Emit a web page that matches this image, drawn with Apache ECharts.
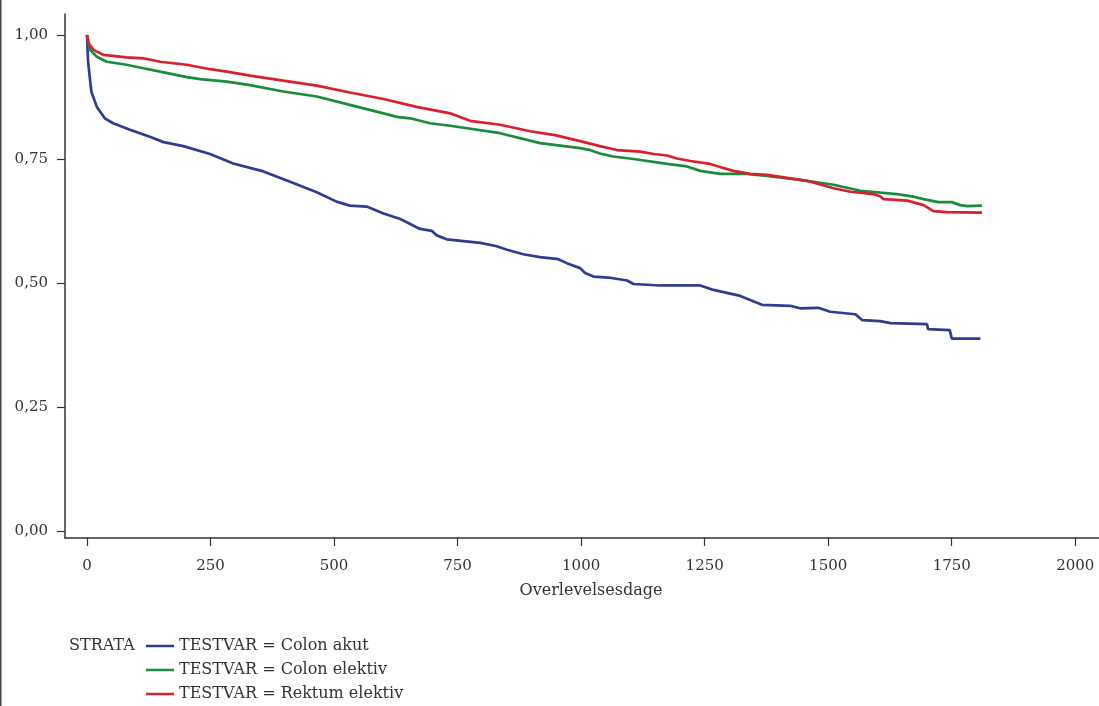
<!DOCTYPE html>
<html>
<head>
<meta charset="utf-8">
<script src="https://cdn.jsdelivr.net/npm/echarts@6/dist/echarts.min.js"></script>
<style>
  html, body { margin: 0; padding: 0; background: #fff; }
  #chart { width: 1099px; height: 706px; }
</style>
</head>
<body>
<div id="chart"></div>
<script>
// Kaplan-Meier survival estimates, [day, survival]
const colonAkut = [
  [0, 1.000], [2, 0.950], [5, 0.920], [9, 0.885], [20, 0.855], [36, 0.832], [53, 0.822],
  [87, 0.809], [127, 0.795], [155, 0.784], [195, 0.776], [249, 0.760], [296, 0.741],
  [357, 0.725], [411, 0.704], [465, 0.683], [505, 0.664], [532, 0.656], [566, 0.654],
  [600, 0.640], [634, 0.629], [674, 0.609], [698, 0.605], [708, 0.596], [728, 0.588],
  [796, 0.581], [829, 0.574], [850, 0.567], [883, 0.558], [917, 0.552], [954, 0.548],
  [971, 0.540], [998, 0.530], [1008, 0.520], [1025, 0.513], [1055, 0.511], [1093, 0.505],
  [1106, 0.498], [1160, 0.495], [1241, 0.495], [1268, 0.486], [1322, 0.474], [1366, 0.456],
  [1423, 0.454], [1443, 0.449], [1480, 0.450], [1504, 0.442], [1555, 0.437], [1569, 0.425],
  [1605, 0.423], [1626, 0.419], [1700, 0.417], [1702, 0.407], [1746, 0.405], [1750, 0.388],
  [1808, 0.388]
];
const colonElektiv = [
  [0, 1.000], [6, 0.970], [20, 0.956], [40, 0.946], [80, 0.940], [114, 0.933], [148, 0.926],
  [202, 0.915], [229, 0.911], [283, 0.906], [330, 0.899], [397, 0.886], [465, 0.876],
  [532, 0.859], [600, 0.842], [627, 0.835], [654, 0.832], [694, 0.822], [735, 0.817],
  [836, 0.802], [917, 0.782], [998, 0.772], [1018, 0.768], [1038, 0.761], [1065, 0.755],
  [1106, 0.750], [1174, 0.740], [1214, 0.735], [1241, 0.726], [1281, 0.720], [1335, 0.720],
  [1376, 0.716], [1443, 0.708], [1511, 0.698], [1565, 0.686], [1605, 0.682], [1639, 0.679],
  [1673, 0.674], [1693, 0.669], [1723, 0.663], [1750, 0.663], [1767, 0.657], [1781, 0.655],
  [1811, 0.656]
];
const rektumElektiv = [
  [0, 1.000], [3, 0.983], [13, 0.970], [33, 0.960], [80, 0.955], [114, 0.953], [148, 0.946],
  [202, 0.940], [249, 0.931], [283, 0.926], [330, 0.918], [397, 0.908], [465, 0.898],
  [532, 0.884], [600, 0.871], [667, 0.855], [735, 0.842], [775, 0.827], [836, 0.819],
  [897, 0.806], [947, 0.798], [998, 0.786], [1038, 0.776], [1072, 0.768], [1119, 0.765],
  [1147, 0.760], [1174, 0.757], [1194, 0.751], [1221, 0.746], [1261, 0.740], [1281, 0.734],
  [1308, 0.726], [1342, 0.720], [1376, 0.718], [1457, 0.706], [1511, 0.691], [1545, 0.684],
  [1592, 0.679], [1605, 0.675], [1612, 0.669], [1660, 0.666], [1693, 0.657], [1713, 0.645],
  [1740, 0.643], [1811, 0.642]
];

const seriesNames = ['TESTVAR = Colon akut', 'TESTVAR = Colon elektiv', 'TESTVAR = Rektum elektiv'];
const seriesColors = ['#2e3d8e', '#1c8b3d', '#d5222e'];
const xTicks = [0, 250, 500, 750, 1000, 1250, 1500, 1750, 2000];
const yTicks = [0, 0.25, 0.5, 0.75, 1.0];
const xTitle = 'Overlevelsesdage';
const legendTitle = 'STRATA';

const FONT = 'DejaVu Serif';
const TEXT = '#333';

const chart = echarts.init(document.getElementById('chart'), null, { renderer: 'canvas' });

const mkSeries = (name, data, color) => ({
  name, type: 'line', data, showSymbol: false, smooth: false,
  lineStyle: { color, width: 2.7 }, itemStyle: { color },
  animation: false
});

chart.setOption({
  backgroundColor: '#fff',
  animation: false,
  grid: { left: 65, right: 0, top: 14, bottom: 168 },
  xAxis: {
    type: 'value', min: -44.5, max: 2048,
    name: xTitle, nameLocation: 'middle', nameGap: 45,
    nameTextStyle: { fontFamily: FONT, fontSize: 16, color: TEXT, padding: [0, 0, 0, 18] },
    axisLine: { show: true, onZero: false, lineStyle: { color: '#333', width: 1.5 } },
    axisTick: { show: true, length: 8, lineStyle: { color: '#333', width: 1.2 }, customValues: xTicks },
    axisLabel: { fontFamily: FONT, fontSize: 15, color: TEXT, margin: 21, customValues: xTicks,
      formatter: v => String(v) },
    splitLine: { show: false }
  },
  yAxis: {
    type: 'value', min: -0.0141, max: 1.0423,
    axisLine: { show: true, onZero: false, lineStyle: { color: '#333', width: 1.5 } },
    axisTick: { show: true, length: 8, lineStyle: { color: '#333', width: 1.2 }, customValues: yTicks },
    axisLabel: { fontFamily: FONT, fontSize: 15, color: TEXT, margin: 17, customValues: yTicks,
      formatter: v => v.toFixed(2).replace('.', ',') },
    splitLine: { show: false }
  },
  legend: {
    orient: 'vertical', left: 146, top: 637, height: 120, padding: 0,
    itemWidth: 28, itemHeight: 2.5, itemGap: 6, icon: 'rect',
    textStyle: { fontFamily: FONT, fontSize: 16, color: TEXT, lineHeight: 18, padding: [0, 0, 0, 0] },
    data: seriesNames
  },
  graphic: [
    { type: 'rect', left: 0, top: 0, shape: { width: 1.5, height: 706 }, style: { fill: '#444' }, silent: true },
    { type: 'text', left: 69, top: 638, style: { text: legendTitle, font: '16px "' + FONT + '"', fill: TEXT } }
  ],
  series: [
    mkSeries(seriesNames[0], colonAkut, seriesColors[0]),
    mkSeries(seriesNames[1], colonElektiv, seriesColors[1]),
    mkSeries(seriesNames[2], rektumElektiv, seriesColors[2])
  ]
});
</script>
</body>
</html>
